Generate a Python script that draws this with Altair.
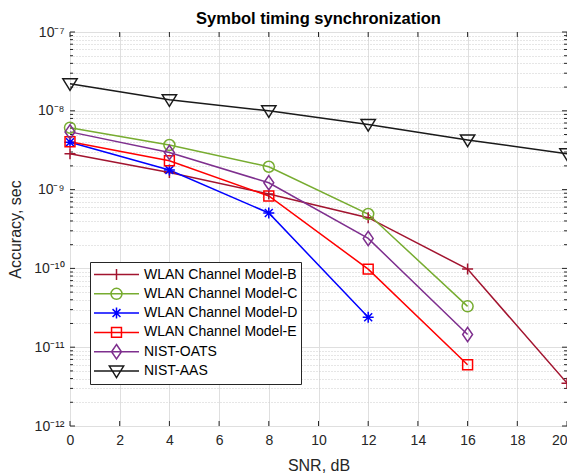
import math
import altair as alt
import pandas as pd

# ---------------- data ----------------
snr = [0, 4, 8, 12, 16, 20]
series_names = ["WLAN Channel Model-B", "WLAN Channel Model-C", "WLAN Channel Model-D",
                "WLAN Channel Model-E", "NIST-OATS", "NIST-AAS"]
wlan_b = [2.85e-9, 1.65e-9, 8.8e-10, 4.4e-10, 9.8e-11, 3.5e-12]
wlan_c = [6.1e-9, 3.68e-9, 1.95e-9, 4.9e-10, 3.3e-11]
wlan_d = [4.0e-9, 1.77e-9, 5.05e-10, 2.4e-11]
wlan_e = [4.05e-9, 2.32e-9, 8.3e-10, 9.8e-11, 6.0e-12]
nist_oats = [5.4e-9, 2.96e-9, 1.22e-9, 2.4e-10, 1.45e-11]
nist_aas = [2.2e-8, 1.38e-8, 1.0e-8, 6.7e-9, 4.27e-9, 2.85e-9]
all_series = [wlan_b, wlan_c, wlan_d, wlan_e, nist_oats, nist_aas]

x_ticks = [0, 2, 4, 6, 8, 10, 12, 14, 16, 18, 20]
y_major = [1e-12, 1e-11, 1e-10, 1e-9, 1e-8, 1e-7]
y_labels = ["10\u207b\u00b9\u00b2", "10\u207b\u00b9\u00b9", "10\u207b\u00b9\u2070",
            "10\u207b\u2079", "10\u207b\u2078", "10\u207b\u2077"]
y_minor = [k * m for m in y_major[:-1] for k in range(2, 10)]

colors = ["#A2142F", "#77AC30", "#0000FF", "#FF0000", "#7E2F8E", "#1a1a1a"]

rows = []
for name, vals in zip(series_names, all_series):
    for i, v in enumerate(vals):
        rows.append({"snr": snr[i], "acc": v, "series": name, "order": i})
df = pd.DataFrame(rows)

# ---------------- marker shapes ----------------
def f(v):
    return f"{v:.4f}".rstrip("0").rstrip(".")

def plus(k):
    return f"M{f(-k)},0L{f(k)},0M0,{f(-k)}L0,{f(k)}"

def circle(k):
    return f"M{f(k)},0A{f(k)},{f(k)},0,1,1,{f(-k)},0A{f(k)},{f(k)},0,1,1,{f(k)},0Z"

def star(k):
    d = 0.72 * k
    return plus(k) + f"M{f(-d)},{f(-d)}L{f(d)},{f(d)}M{f(-d)},{f(d)}L{f(d)},{f(-d)}"

def square(k):
    s = 0.9 * k
    return f"M{f(-s)},{f(-s)}L{f(s)},{f(-s)}L{f(s)},{f(s)}L{f(-s)},{f(s)}Z"

def diamond(k):
    w, h = 0.9 * k, 1.3 * k
    return f"M0,{f(-h)}L{f(w)},0L0,{f(h)}L{f(-w)},0Z"

def tri_down(k):
    return f"M{f(-1.3*k)},{f(-0.9*k)}L{f(1.3*k)},{f(-0.9*k)}L0,{f(1.2*k)}Z"

marker_fns = [plus, circle, star, square, diamond, tri_down]
marker_paths = [fn(1) for fn in marker_fns]
leg_k = 5.5 / 22.5
legend_paths = ["M-1,0L1,0" + fn(leg_k) for fn in marker_fns]

# ---------------- layout ----------------
W, H = 497, 394
FONT = "Liberation Sans"
TXT = "#262626"

major_test = "abs(log(datum.value)/LN10 - round(log(datum.value)/LN10)) < 0.001"
e_expr = "round(log(datum.value)/LN10)"
lab = "''"
for val, txt in zip(reversed(y_major), reversed(y_labels)):
    e = round(math.log10(val))
    lab = f"({e_expr} == {e} ? '{txt}' : {lab})"
label_expr = f"({major_test}) ? {lab} : ''"

x_axis = alt.Axis(values=x_ticks, grid=True, gridColor="#dfdfdf", ticks=False, domain=False,
                  labelFont=FONT, labelFontSize=14, labelColor=TXT, labelPadding=7,
                  labelFlush=False,
                  labelAlign={"condition": {"test": f"datum.value >= {x_ticks[-1]}", "value": "right"},
                              "value": "center"},
                  title="SNR, dB", titleFont=FONT, titleFontSize=16,
                  titleFontWeight="normal", titleColor=TXT, titleX=W / 2, titleY=39,
                  titleBaseline="middle", titleAlign="center")
y_axis = alt.Axis(values=y_major + y_minor, grid=True,
                  gridColor={"condition": {"test": major_test, "value": "#dfdfdf"}, "value": "#cccccc"},
                  gridDash={"condition": {"test": major_test, "value": []}, "value": [1, 2]},
                  ticks=False, domain=False, labelExpr=label_expr, labelOverlap=False,
                  labelFont=FONT, labelFontSize=14, labelColor=TXT, labelPadding=6,
                  title="Accuracy, sec", titleFont=FONT, titleFontSize=16,
                  titleFontWeight="normal", titleColor=TXT, titleX=-55, titleY=H / 2,
                  titleBaseline="middle", titleAlign="center", titleAngle=-90)

xs = alt.Scale(domain=[0, 20], nice=False, zero=False)
ys = alt.Scale(type="log", domain=[1e-12, 1e-7], nice=False)
X = alt.X("snr:Q", scale=xs, axis=x_axis)
Y = alt.Y("acc:Q", scale=ys, axis=y_axis)
cscale = alt.Scale(domain=series_names, range=colors)

legend_opts = dict(
    orient="none", legendX=20, legendY=230, title=None, strokeColor=TXT, fillColor="white",
    padding=3, labelFont=FONT, labelFontSize=14, labelColor="black", labelOffset=4,
    symbolSize=2025, symbolStrokeWidth=1.5, clipHeight=19, rowPadding=0.3, labelLimit=400,
    symbolOpacity=1, symbolFillColor="transparent", cornerRadius=0)

base = alt.Chart(df)
lines = base.mark_line(strokeWidth=1.5).encode(
    x=X, y=Y, color=alt.Color("series:N", scale=cscale, legend=None), order="order:Q")
markers = base.mark_point(filled=False, strokeWidth=1.5, size=121, opacity=1).encode(
    x=X, y=Y, color=alt.Color("series:N", scale=cscale, legend=None),
    shape=alt.Shape("series:N", scale=alt.Scale(domain=series_names, range=marker_paths), legend=None))
legend_layer = base.transform_filter("false").mark_point(filled=False, strokeWidth=1.5, opacity=1).encode(
    x=X, y=Y,
    color=alt.Color("series:N", scale=cscale, legend=alt.Legend(**legend_opts)),
    shape=alt.Shape("series:N", scale=alt.Scale(domain=series_names, range=legend_paths),
                    legend=alt.Legend(**legend_opts)))

# inward ticks (MATLAB style)
ymaj_df = pd.DataFrame({"acc": y_major})
ymin_df = pd.DataFrame({"acc": y_minor})
xt_df = pd.DataFrame({"snr": x_ticks})
tick_style = dict(color=TXT, strokeWidth=1)
t1 = alt.Chart(ymaj_df).mark_rule(**tick_style).encode(y=Y, x=alt.value(0), x2=alt.value(5))
t2 = alt.Chart(ymin_df).mark_rule(**tick_style).encode(y=Y, x=alt.value(0), x2=alt.value(3))
t3 = alt.Chart(ymaj_df).mark_rule(**tick_style).encode(y=Y, x=alt.value(W - 5), x2=alt.value(W))
t4 = alt.Chart(ymin_df).mark_rule(**tick_style).encode(y=Y, x=alt.value(W - 3), x2=alt.value(W))
t5 = alt.Chart(xt_df).mark_rule(**tick_style).encode(x=X, y=alt.value(H - 5), y2=alt.value(H))
t6 = alt.Chart(xt_df).mark_rule(**tick_style).encode(x=X, y=alt.value(0), y2=alt.value(5))

chart = alt.layer(t1, t2, t3, t4, t5, t6, lines, markers, legend_layer).resolve_scale(
    color="independent", shape="independent"
).properties(
    width=W, height=H,
    title=alt.TitleParams("Symbol timing synchronization", font=FONT, fontSize=16.5,
                          fontWeight="bold", color="black", offset=-2, anchor="middle"),
    autosize=alt.AutoSizeParams(type="none"),
    padding={"left": 62, "top": 24, "right": 0, "bottom": 49},
).configure_view(stroke=TXT, strokeWidth=1).configure(background="white")

chart.save("out.html", embed_options={"renderer": "svg", "actions": False})
